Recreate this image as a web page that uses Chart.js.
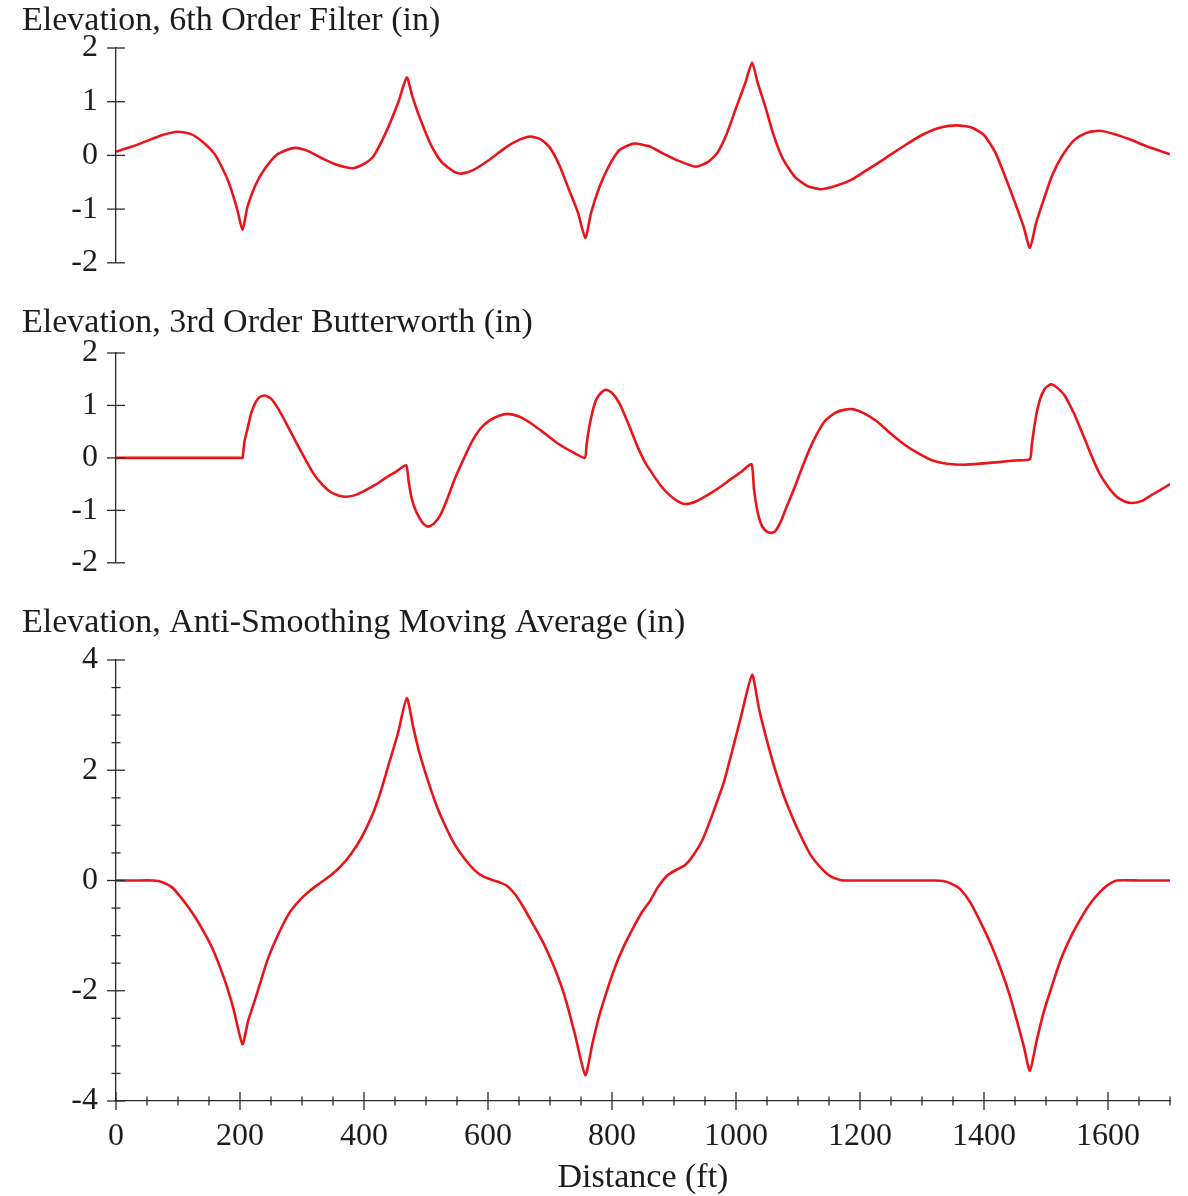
<!DOCTYPE html>
<html>
<head>
<meta charset="utf-8">
<title>Elevation profiles</title>
<script src="https://cdn.jsdelivr.net/npm/chart.js@4.4.0/dist/chart.umd.min.js"></script>
<style>
  html, body { margin: 0; padding: 0; background: #fff; }
  #wrap { position: relative; width: 1188px; height: 1196px; overflow: hidden; }
  canvas { position: absolute; left: 0; }
</style>
</head>
<body>
<div id="wrap">
  <canvas id="filterChart" width="1188" height="300" style="top:0"></canvas>
  <canvas id="butterChart" width="1188" height="300" style="top:300px"></canvas>
  <canvas id="antiChart" width="1188" height="600" style="top:600px"></canvas>
</div>
<script>
// distance (ft) / elevation (in)
const filterDist = [0, 25, 50, 75, 100, 120, 140, 160, 180, 195, 204, 212, 225, 240, 258, 275, 290, 310, 330, 355,
  382, 400, 415, 435, 455, 469, 478, 490, 507, 525, 545, 557, 575, 600, 630, 650, 668, 685, 700, 715,
  730, 745, 757, 766, 780, 795, 812, 835, 860, 880, 905, 935, 955, 970, 985, 1000, 1015, 1026, 1035, 1048,
  1060, 1075, 1095, 1115, 1137, 1160, 1185, 1210, 1240, 1270, 1300, 1330, 1356, 1380, 1400, 1418, 1435, 1450, 1464, 1474,
  1484, 1497, 1510, 1525, 1545, 1565, 1586, 1610, 1635, 1660, 1685, 1700];
const filterElev = [0.07, 0.16, 0.27, 0.38, 0.44, 0.40, 0.25, 0.01, -0.45, -0.98, -1.39, -0.96, -0.55, -0.25, 0.00, 0.10, 0.14, 0.08, -0.04, -0.17,
  -0.24, -0.16, -0.02, 0.42, 0.98, 1.45, 1.10, 0.70, 0.22, -0.12, -0.30, -0.34, -0.28, -0.10, 0.16, 0.29, 0.35, 0.30, 0.14, -0.18,
  -0.62, -1.06, -1.54, -1.08, -0.58, -0.20, 0.10, 0.22, 0.17, 0.05, -0.09, -0.21, -0.12, 0.05, 0.40, 0.88, 1.35, 1.73, 1.35, 0.88,
  0.40, -0.05, -0.40, -0.57, -0.63, -0.57, -0.46, -0.28, -0.06, 0.17, 0.38, 0.52, 0.56, 0.52, 0.38, 0.06, -0.42, -0.88, -1.33, -1.72,
  -1.26, -0.80, -0.37, -0.03, 0.28, 0.42, 0.46, 0.40, 0.30, 0.18, 0.08, 0.02];

const butterDist = [0, 100, 200, 204, 207, 212, 218, 225, 232, 240, 250, 262, 275, 290, 305, 318, 332, 346, 360, 372,
  388, 402, 420, 435, 452, 468, 472, 476, 481, 490, 497, 504, 513, 524, 535, 546, 560, 574, 588, 602,
  617, 632, 650, 668, 690, 712, 735, 756, 759, 762, 766, 770, 775, 782, 790, 800, 812, 826, 841, 855,
  868, 880, 892, 905, 918, 935, 958, 975, 991, 1008, 1025, 1029, 1034, 1040, 1047, 1055, 1063, 1072, 1081, 1095,
  1109, 1125, 1143, 1160, 1176, 1188, 1205, 1227, 1250, 1272, 1295, 1317, 1340, 1367, 1395, 1423, 1450, 1474, 1477, 1480,
  1484, 1490, 1497, 1504, 1510, 1518, 1530, 1545, 1558, 1572, 1586, 1600, 1614, 1627, 1639, 1655, 1670, 1686, 1700];
const butterElev = [0, 0, 0, 0, 0.30, 0.55, 0.85, 1.06, 1.16, 1.19, 1.13, 0.93, 0.65, 0.31, -0.02, -0.29, -0.50, -0.65, -0.72, -0.74,
  -0.70, -0.62, -0.50, -0.38, -0.26, -0.14, -0.45, -0.72, -0.93, -1.16, -1.27, -1.31, -1.25, -1.07, -0.76, -0.41, -0.04, 0.31, 0.56, 0.71,
  0.80, 0.84, 0.79, 0.67, 0.48, 0.28, 0.12, 0.00, 0.25, 0.50, 0.75, 0.95, 1.12, 1.24, 1.30, 1.24, 1.04, 0.66, 0.22, -0.12,
  -0.35, -0.55, -0.70, -0.82, -0.88, -0.83, -0.68, -0.55, -0.41, -0.27, -0.12, -0.60, -0.98, -1.25, -1.38, -1.43, -1.40, -1.22, -0.95, -0.55,
  -0.11, 0.33, 0.70, 0.86, 0.92, 0.93, 0.86, 0.70, 0.46, 0.25, 0.08, -0.05, -0.11, -0.13, -0.11, -0.08, -0.05, -0.02, 0.25, 0.50,
  0.80, 1.10, 1.30, 1.38, 1.40, 1.34, 1.19, 0.85, 0.49, 0.08, -0.29, -0.55, -0.74, -0.83, -0.86, -0.82, -0.71, -0.60, -0.50];

const antiDist = [0, 30, 60, 75, 90, 102, 115, 129, 143, 157, 168, 179, 190, 204, 213, 224, 235, 246, 262, 279,
  296, 313, 330, 346, 362, 379, 396, 412, 426, 440, 455, 469, 480, 490, 504, 518, 532, 546, 562, 579,
  593, 607, 620, 630, 643, 657, 673, 690, 707, 724, 740, 757, 768, 779, 793, 807, 821, 835, 848, 862,
  874, 890, 905, 918, 932, 946, 962, 980, 995, 1008, 1026, 1037, 1048, 1062, 1075, 1090, 1104, 1120, 1137, 1152,
  1168, 1180, 1250, 1320, 1334, 1348, 1362, 1378, 1395, 1412, 1429, 1442, 1454, 1464, 1474, 1485, 1496, 1510, 1524, 1541,
  1558, 1572, 1586, 1600, 1614, 1650, 1700];
const antiElev = [0, 0, 0, -0.03, -0.12, -0.27, -0.46, -0.69, -0.96, -1.27, -1.58, -1.93, -2.35, -2.97, -2.55, -2.17, -1.77, -1.39, -0.97, -0.60,
  -0.36, -0.18, -0.04, 0.09, 0.25, 0.48, 0.78, 1.15, 1.58, 2.11, 2.68, 3.31, 2.75, 2.29, 1.78, 1.33, 0.97, 0.66, 0.40, 0.18,
  0.07, 0.01, -0.04, -0.09, -0.24, -0.48, -0.80, -1.15, -1.58, -2.11, -2.78, -3.53, -2.98, -2.47, -1.96, -1.51, -1.15, -0.84, -0.58, -0.36,
  -0.12, 0.10, 0.20, 0.28, 0.47, 0.74, 1.20, 1.77, 2.40, 2.97, 3.73, 3.12, 2.62, 2.05, 1.60, 1.17, 0.82, 0.47, 0.23, 0.08,
  0.01, 0, 0, 0, -0.01, -0.06, -0.16, -0.40, -0.77, -1.18, -1.67, -2.10, -2.58, -3.00, -3.45, -2.90, -2.40, -1.90, -1.43, -1.00,
  -0.65, -0.41, -0.22, -0.08, 0, 0, 0];

const xMin = 0, xMax = 1700;
const lineRed = 'rgb(234, 20, 26)';
const inkColor = '#1c1c1c';

Chart.defaults.font.family = "'Liberation Serif', 'Times New Roman', serif";
Chart.defaults.color = inkColor;

function isMajor(v, step) {
  const r = v / step;
  return Math.abs(r - Math.round(r)) < 1e-6;
}

// axis ticks that cross the axis line, long on majors and short on minors
const crossTicks = {
  id: 'crossTicks',
  afterDraw(chart, args, opts) {
    const ctx = chart.ctx;
    const area = chart.chartArea;
    ctx.save();
    ctx.strokeStyle = '#2a2a2a';
    ctx.lineWidth = 1.3;
    const ys = chart.scales.y;
    ys.ticks.forEach(t => {
      const py = ys.getPixelForValue(t.value);
      const len = isMajor(t.value, opts.yMajor) ? 9 : 4.5;
      ctx.beginPath();
      ctx.moveTo(area.left - len, py);
      ctx.lineTo(area.left + len, py);
      ctx.stroke();
    });
    if (opts.xTicks) {
      const xs = chart.scales.x;
      xs.ticks.forEach(t => {
        const px = xs.getPixelForValue(t.value);
        const len = isMajor(t.value, opts.xMajor) ? 9 : 4.5;
        ctx.beginPath();
        ctx.moveTo(px, area.bottom - len);
        ctx.lineTo(px, area.bottom + len);
        ctx.stroke();
      });
    }
    ctx.restore();
  }
};

function makeChart(id, title, dist, elev, cfg) {
  const points = dist.map((d, i) => ({ x: d, y: elev[i] }));
  new Chart(document.getElementById(id), {
    type: 'line',
    data: {
      datasets: [{
        data: points,
        borderColor: lineRed,
        borderWidth: 2.6,
        pointRadius: 0,
        tension: 0.2,
        fill: false
      }]
    },
    options: {
      responsive: false,
      animation: false,
      devicePixelRatio: 1,
      layout: { padding: { top: 0, left: 22, right: 18, bottom: cfg.padBottom } },
      plugins: {
        legend: { display: false },
        tooltip: { enabled: false },
        title: {
          display: true,
          text: title,
          align: 'start',
          color: inkColor,
          font: { size: 34, weight: 'normal' },
          padding: { top: cfg.titleTop, bottom: cfg.titleBottom }
        },
        crossTicks: { yMajor: cfg.yMajor, xMajor: 200, xTicks: cfg.showX }
      },
      scales: {
        x: {
          type: 'linear',
          min: xMin,
          max: xMax,
          display: cfg.showX,
          afterFit: s => { if (cfg.showX) s.height = 99; },
          grid: { display: false, drawTicks: false },
          border: { display: cfg.showX, color: '#2a2a2a', width: 1.3 },
          ticks: {
            stepSize: 50,
            autoSkip: false,
            maxRotation: 0,
            minRotation: 0,
            padding: 16,
            font: { size: 32 },
            callback: v => isMajor(v, 200) ? String(v) : ''
          },
          title: {
            display: cfg.showX,
            text: 'Distance (ft)',
            color: inkColor,
            font: { size: 34 },
            padding: { top: 0, bottom: 1.5 }
          }
        },
        y: {
          min: cfg.yMin,
          max: cfg.yMax,
          afterFit: s => { s.width = 94; },
          grid: { display: false, drawTicks: false },
          border: { display: true, color: '#2a2a2a', width: 1.3 },
          ticks: {
            stepSize: cfg.yStep,
            autoSkip: false,
            padding: 18,
            font: { size: 32 },
            callback: v => isMajor(v, cfg.yMajor) ? String(v) : ''
          }
        }
      }
    },
    plugins: [crossTicks]
  });
}

makeChart('filterChart', 'Elevation, 6th Order Filter (in)', filterDist, filterElev,
  { yMin: -2, yMax: 2, yStep: 1, yMajor: 1, showX: false, titleTop: 0.6, titleBottom: 6.6, padBottom: 31 });
makeChart('butterChart', 'Elevation, 3rd Order Butterworth (in)', butterDist, butterElev,
  { yMin: -2, yMax: 2, yStep: 1, yMajor: 1, showX: false, titleTop: 2.6, titleBottom: 9.6, padBottom: 25 });
makeChart('antiChart', 'Elevation, Anti-Smoothing Moving Average (in)', antiDist, antiElev,
  { yMin: -4, yMax: 4, yStep: 0.5, yMajor: 2, showX: true, titleTop: 2.6, titleBottom: 16.6, padBottom: 0 });
</script>
</body>
</html>
